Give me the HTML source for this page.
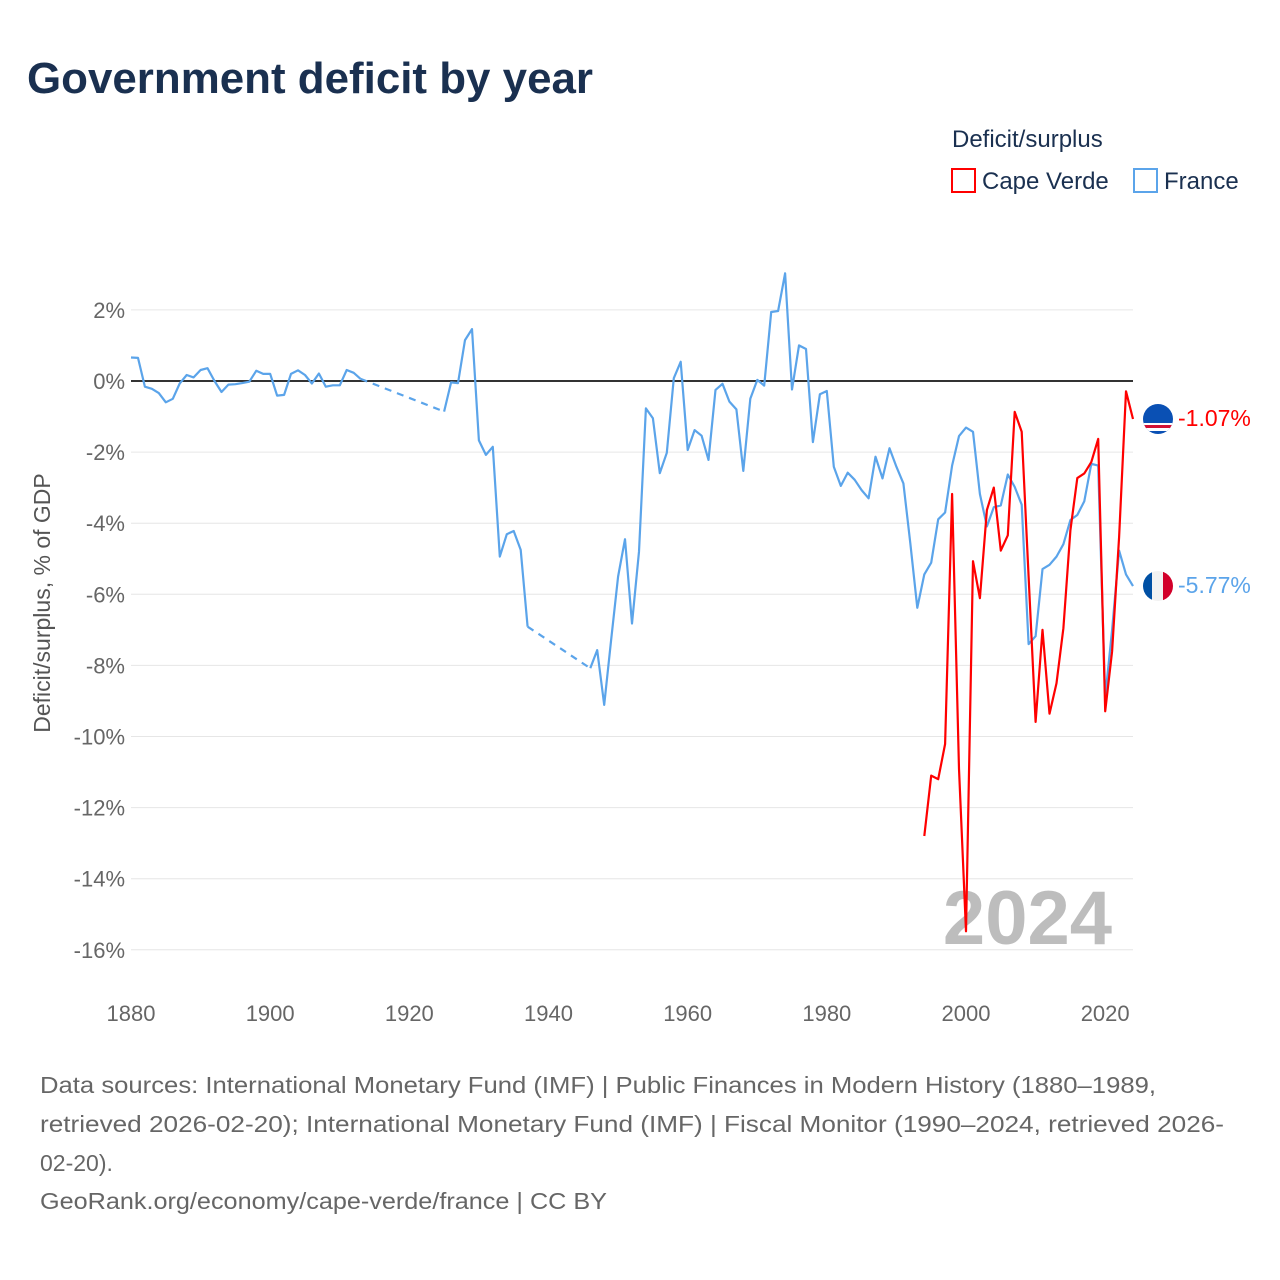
<!DOCTYPE html>
<html><head><meta charset="utf-8"><style>
html,body{margin:0;padding:0;background:#fff;}
svg{display:block;font-family:"Liberation Sans",sans-serif;}
</style></head><body>
<svg id="chart" width="1280" height="1280" viewBox="0 0 1280 1280">
<text x="27" y="93" font-size="44" font-weight="bold" fill="#1a3050" textLength="566" lengthAdjust="spacingAndGlyphs">Government deficit by year</text>
<text x="952" y="147" font-size="24" fill="#1a3050">Deficit/surplus</text>
<g>
<rect x="952" y="169" width="23" height="23" fill="none" stroke="#ff0000" stroke-width="2"/>
<text x="982" y="189" font-size="24" fill="#1a3050">Cape Verde</text></g>
<g>
<rect x="1134" y="169" width="23" height="23" fill="none" stroke="#5ba4ea" stroke-width="2"/>
<text x="1164" y="189" font-size="24" fill="#1a3050">France</text></g>
<text transform="translate(50,603) rotate(-90)" text-anchor="middle" font-size="23" fill="#555">Deficit/surplus, % of GDP</text>
<g id="grid"></g><g id="yticks"></g><g id="xticks"></g>
<text x="1112" y="944" text-anchor="end" font-size="76" font-weight="bold" fill="#bdbdbd">2024</text>
<g id="series"></g>
<g>
<clipPath id="c1"><circle cx="1158" cy="419" r="15"/></clipPath>
<g clip-path="url(#c1)"><rect x="1140" y="400" width="40" height="40" fill="#0a50b4"/><rect x="1140" y="423" width="40" height="8" fill="#fff"/><rect x="1140" y="425" width="40" height="3" fill="#d21034"/></g>
<text x="1178" y="426" font-size="23" fill="#ff0000">-1.07%</text></g>
<g>
<clipPath id="c2"><circle cx="1158" cy="586" r="15"/></clipPath>
<g clip-path="url(#c2)"><rect x="1140" y="568" width="12" height="40" fill="#0050a4"/><rect x="1152" y="568" width="11" height="40" fill="#f2f2f2"/><rect x="1163" y="568" width="15" height="40" fill="#d2002a"/></g>
<text x="1178" y="593" font-size="23" fill="#5ba4ea">-5.77%</text></g>
<g font-size="23" fill="#666">
<text x="40" y="1093" textLength="1116" lengthAdjust="spacingAndGlyphs">Data sources: International Monetary Fund (IMF) | Public Finances in Modern History (1880–1989,</text>
<text x="40" y="1132" textLength="1184" lengthAdjust="spacingAndGlyphs">retrieved 2026-02-20); International Monetary Fund (IMF) | Fiscal Monitor (1990–2024, retrieved 2026-</text>
<text x="40" y="1171">02-20).</text>
<text x="40" y="1209" textLength="567" lengthAdjust="spacingAndGlyphs">GeoRank.org/economy/cape-verde/france | CC BY</text>
</g>
</svg>
<script>
const yTicks=[2,0,-2,-4,-6,-8,-10,-12,-14,-16];
const xTicks=[1880,1900,1920,1940,1960,1980,2000,2020];
const franceYears=[1880,1881,1882,1883,1884,1885,1886,1887,1888,1889,1890,1891,1892,1893,1894,1895,1896,1897,1898,1899,1900,1901,1902,1903,1904,1905,1906,1907,1908,1909,1910,1911,1912,1913,1925,1926,1927,1928,1929,1930,1931,1932,1933,1934,1935,1936,1937,1946,1947,1948,1949,1950,1951,1952,1953,1954,1955,1956,1957,1958,1959,1960,1961,1962,1963,1964,1965,1966,1967,1968,1969,1970,1971,1972,1973,1974,1975,1976,1977,1978,1979,1980,1981,1982,1983,1984,1985,1986,1987,1988,1989,1990,1991,1992,1993,1994,1995,1996,1997,1998,1999,2000,2001,2002,2003,2004,2005,2006,2007,2008,2009,2010,2011,2012,2013,2014,2015,2016,2017,2018,2019,2020,2021,2022,2023,2024];
const franceValues=[0.66,0.65,-0.16,-0.22,-0.34,-0.6,-0.5,-0.07,0.17,0.1,0.31,0.36,0.0,-0.31,-0.1,-0.09,-0.06,-0.02,0.29,0.2,0.2,-0.41,-0.39,0.2,0.3,0.17,-0.07,0.21,-0.16,-0.12,-0.12,0.31,0.23,0.06,-0.86,-0.04,-0.06,1.15,1.46,-1.67,-2.08,-1.85,-4.94,-4.31,-4.22,-4.75,-6.91,-8.08,-7.57,-9.11,-7.29,-5.5,-4.45,-6.82,-4.8,-0.77,-1.05,-2.59,-2.02,0.08,0.54,-1.94,-1.38,-1.54,-2.22,-0.25,-0.08,-0.58,-0.8,-2.53,-0.5,0.03,-0.13,1.94,1.97,3.03,-0.24,1.0,0.9,-1.72,-0.37,-0.28,-2.41,-2.95,-2.58,-2.78,-3.07,-3.3,-2.13,-2.74,-1.89,-2.41,-2.88,-4.56,-6.38,-5.44,-5.11,-3.89,-3.7,-2.38,-1.55,-1.31,-1.43,-3.18,-4.09,-3.55,-3.5,-2.63,-2.98,-3.48,-7.4,-7.18,-5.29,-5.17,-4.94,-4.59,-3.91,-3.77,-3.38,-2.33,-2.38,-8.9,-7.0,-4.77,-5.44,-5.77];
const capeVerdeYears=[1994,1995,1996,1997,1998,1999,2000,2001,2002,2003,2004,2005,2006,2007,2008,2009,2010,2011,2012,2013,2014,2015,2016,2017,2018,2019,2020,2021,2022,2023,2024];
const capeVerdeValues=[-12.8,-11.1,-11.2,-10.21,-3.18,-10.91,-15.48,-5.07,-6.11,-3.63,-3.0,-4.77,-4.34,-0.87,-1.43,-5.5,-9.59,-7.0,-9.36,-8.5,-6.95,-4.2,-2.73,-2.6,-2.28,-1.63,-9.29,-7.6,-4.39,-0.29,-1.07];

const NS="http://www.w3.org/2000/svg";
const X0=131,X1=1133,Y0=381,PY=35.55;
function xs(yr){return X0+(yr-1880)*(X1-X0)/144;}
function ys(v){return Y0-v*PY;}
function mk(tag,attrs,parent){const e=document.createElementNS(NS,tag);for(const k in attrs)e.setAttribute(k,attrs[k]);parent.appendChild(e);return e;}
const grid=document.getElementById('grid'),yt=document.getElementById('yticks'),xt=document.getElementById('xticks'),ser=document.getElementById('series');
yTicks.forEach(t=>{
  if(t!==0){const l=mk('line',{x1:X0,x2:X1,y1:ys(t),y2:ys(t),stroke:'#e6e6e6','stroke-width':1},grid);
  
  }
  const tx=mk('text',{x:125,y:ys(t)+8,'text-anchor':'end','font-size':22,fill:'#666'},yt);
  tx.textContent=t+'%';
  
  
});
xTicks.forEach(t=>{
  const tx=mk('text',{x:xs(t),y:1021,'text-anchor':'middle','font-size':22,fill:'#666'},xt);
  tx.textContent=t;
  
  
});
const zl=mk('line',{x1:X0,x2:X1,y1:ys(0),y2:ys(0),stroke:'#333','stroke-width':2},grid);


function drawSeries(years,vals,color,name){
  const g=mk('g',{},ser);
  
  
  let seg=[];
  for(let i=0;i<years.length;i++){
    if(i>0&&years[i]-years[i-1]>1){
      // draw solid seg so far, then dashed bridge
      if(seg.length>1){const p=mk('polyline',{points:seg.join(' '),fill:'none',stroke:color,'stroke-width':2.2,'stroke-linejoin':'round'},g);
        
        }
      const d=mk('line',{x1:xs(years[i-1]),y1:ys(vals[i-1]),x2:xs(years[i]),y2:ys(vals[i]),stroke:color,'stroke-width':2.2,'stroke-dasharray':'7,6'},g);
      
      
      seg=[];
    }
    seg.push(xs(years[i]).toFixed(1)+','+ys(vals[i]).toFixed(1));
  }
  if(seg.length>1){const p=mk('polyline',{points:seg.join(' '),fill:'none',stroke:color,'stroke-width':2.2,'stroke-linejoin':'round'},g);
    
    }
}
drawSeries(franceYears,franceValues,'#5ba4ea','france');
drawSeries(capeVerdeYears,capeVerdeValues,'#ff0000','cape-verde');
</script>
</body></html>
